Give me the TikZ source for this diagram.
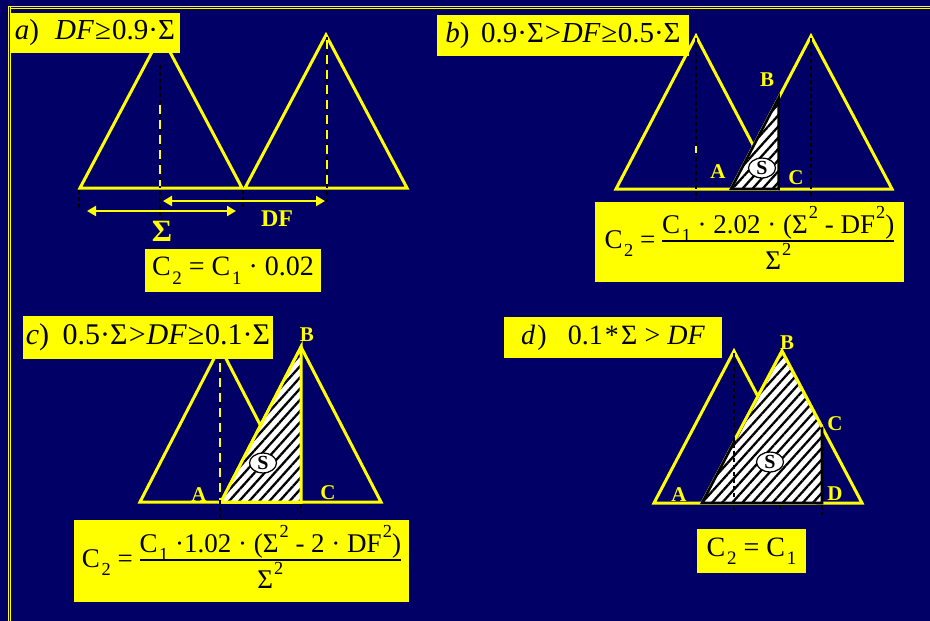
\documentclass[tikz,border=0pt]{standalone}
\usepackage{fontspec}
\usepackage{graphicx}
\setmainfont{Liberation Serif}
\usetikzlibrary{arrows.meta,patterns.meta,shapes.geometric}
\definecolor{navy}{RGB}{0,0,102}
\definecolor{yel}{RGB}{255,255,0}
\newcommand\fs[1]{\fontsize{#1}{#1}\selectfont}
\newcommand\sbs[1]{\kern0.06em\raisebox{-0.3em}{\scalebox{0.68}{#1}}}
\newcommand\sps[1]{\kern0.04em\raisebox{0.55em}{\scalebox{0.68}{#1}}}
\newcommand\myfrac[2]{\setlength\arrayrulewidth{1.4pt}\renewcommand\arraystretch{1.0}\begin{tabular}{@{}c@{}}#1\\[-1pt]\hline\rule{0pt}{1.05em}#2\end{tabular}}
\begin{document}
\begin{tikzpicture}[x=1pt,y=-1pt,
  tri/.style={draw=yel,line width=3pt,line join=miter},
  ybox/.style={fill=yel,text=black,inner sep=0pt},
  blk/.style={draw=black,line width=1.6pt,dash pattern=on 4pt off 3pt},
  ydash/.style={draw=yel,line width=2.4pt,dash pattern=on 9pt off 6pt},
  lbl/.style={text=yel,font=\fs{21}\bfseries,inner sep=0pt},
  sball/.style={ellipse,draw=black,line width=1.2pt,fill=white,inner sep=0.3pt,minimum width=27pt,minimum height=19pt,font=\fs{20}\bfseries,text=black},
  hatch/.style={preaction={fill=white},pattern={Lines[angle=48,distance=7.5pt,line width=2.3pt]},pattern color=black},
  dimarr/.style={draw=yel,line width=2pt,{Triangle[length=9pt,width=10pt]}-{Triangle[length=9pt,width=10pt]}},
  frame/.style={draw=yel,line width=1.3pt,double=navy,double distance=0.9pt}]
\fill[navy] (0,0) rectangle (930,621);
\useasboundingbox (0,0) rectangle (930,621);
% frame
\coordinate (f0) at (8,7.3);
\coordinate (f1) at (930,7.3);
\coordinate (f2) at (9.3,7.3);
\coordinate (f3) at (9.3,621);
\draw[frame] (f0) -- (f1);
\draw[frame] (f2) -- (f3);

% ================= panel a
\coordinate (a1L) at (80,188); \coordinate (a1T) at (161,35); \coordinate (a1R) at (242,188);
\coordinate (a2L) at (245,188); \coordinate (a2T) at (326,35); \coordinate (a2R) at (407,188);
\draw[tri] (a1L) -- (a1T) -- (a1R) -- cycle;
\draw[tri] (a2L) -- (a2T) -- (a2R) -- cycle;
\coordinate (ad1a) at (160,65); \coordinate (ad1b) at (160,217);
\coordinate (ad1c) at (160,105); \coordinate (ad1d) at (160,186);
\draw[blk] (ad1a) -- (ad1b);
\draw[ydash] (ad1c) -- (ad1d);
\coordinate (ad2a) at (327,37); \coordinate (ad2b) at (327,205);
\coordinate (ad2c) at (327,40); \coordinate (ad2d) at (327,186);
\draw[blk] (ad2a) -- (ad2b);
\draw[ydash] (ad2c) -- (ad2d);
\coordinate (at1a) at (79,190); \coordinate (at1b) at (79,211);
\coordinate (at2a) at (243,190); \coordinate (at2b) at (243,207);
\draw[blk] (at1a) -- (at1b);
\draw[blk] (at2a) -- (at2b);
\coordinate (sgA) at (87,211); \coordinate (sgB) at (236,211);
\coordinate (dfA) at (163,201); \coordinate (dfB) at (325,201);
\draw[dimarr] (sgA) -- (sgB);
\draw[dimarr] (dfA) -- (dfB);
\node[text=yel,font=\fs{31}\bfseries,inner sep=0pt] (sigl) at (162,231) {Σ};
\node[text=yel,font=\fs{24}\bfseries,inner sep=0pt] (dfl) at (277,219) {DF};
\node[ybox,minimum width=170pt,minimum height=40pt,font=\fs{29}] (ta) at (95,33) {\textit{a})\hspace{0.55em}\textit{DF}\kern0.04em≥\kern0.04em0.9·Σ};
\node[ybox,minimum width=176pt,minimum height=43pt,font=\fs{28}] (fa) at (233,270.5) {C\sbs{2} = C\sbs{1} · 0.02};

% ================= panel b
\coordinate (b1L) at (616,189); \coordinate (b1T) at (696,36); \coordinate (b1R) at (776,189);
\coordinate (b2L) at (731,189); \coordinate (b2T) at (811,36); \coordinate (b2R) at (892,189);
\draw[tri] (b1L) -- (b1T) -- (b1R) -- cycle;
\draw[tri] (b2L) -- (b2T) -- (b2R) -- cycle;
\coordinate (bA) at (731,189); \coordinate (bB) at (778.6,98); \coordinate (bC) at (778.6,189);
\draw[hatch] (bA) -- (bB) -- (bC) -- cycle;
\draw[black,line width=2.6pt,line join=miter] (bA) -- (bB) -- (bC) -- cycle;
\coordinate (bd1a) at (696,38); \coordinate (bd1b) at (696,200);
\coordinate (bd2a) at (811,38); \coordinate (bd2b) at (811,196);
\coordinate (bd1c) at (696,146); \coordinate (bd1d) at (696,153);
\draw[blk] (bd1a) -- (bd1b);
\draw[blk] (bd2a) -- (bd2b);
\draw[draw=yel,line width=2.4pt] (bd1c) -- (bd1d);
\node[lbl] (bBl) at (767,80) {B};
\node[lbl] (bAl) at (718,172) {A};
\node[lbl] (bCl) at (796,178) {C};
\node[sball] (bS) at (762,168) {S};
\node[ybox,minimum width=252pt,minimum height=41pt,font=\fs{29}] (tb) at (563,35.5) {\textit{b})\hspace{0.4em}0.9·Σ\kern0.03em>\kern0.02em\textit{DF}\kern0.02em≥\kern0.02em0.5·Σ};
\node[ybox,minimum width=309pt,minimum height=80pt,font=\fs{27}] (fb) at (749.5,242) {C\sbs{2} = \myfrac{C\sbs{1} · 2.02 · (Σ\sps{2} - DF\sps{2})}{Σ\sps{2}}};

% ================= panel c
\coordinate (c1L) at (140,502); \coordinate (c1T) at (220,347); \coordinate (c1R) at (300,502);
\coordinate (c2L) at (221,502); \coordinate (c2T) at (301,347); \coordinate (c2R) at (381,502);
\draw[tri] (c1L) -- (c1T) -- (c1R) -- cycle;
\draw[tri] (c2L) -- (c2T) -- (c2R) -- cycle;
\coordinate (cA) at (221,502); \coordinate (cB) at (301,347); \coordinate (cC) at (301,502);
\draw[hatch] (cA) -- (cB) -- (cC) -- cycle;
\draw[tri] (cA) -- (cB) -- (cC) -- cycle;
\coordinate (cd1a) at (220,360); \coordinate (cd1b) at (220,518);
\coordinate (cd1c) at (220,363); \coordinate (cd1d) at (220,500);
\draw[blk] (cd1a) -- (cd1b);
\draw[ydash] (cd1c) -- (cd1d);
\coordinate (ct1a) at (301,504); \coordinate (ct1b) at (301,513);
\draw[blk] (ct1a) -- (ct1b);
\node[lbl] (cBl) at (307,335) {B};
\node[lbl] (cAl) at (199,495) {A};
\node[lbl] (cCl) at (328,493) {C};
\node[sball] (cS) at (263,463) {S};
\node[ybox,minimum width=250pt,minimum height=43pt,font=\fs{30}] (tc) at (148,337.5) {\textit{c})\hspace{0.45em}0.5·Σ\kern0.04em>\kern0.03em\textit{DF}\kern0.03em≥\kern0.03em0.1·Σ};
\node[ybox,minimum width=335pt,minimum height=82pt,font=\fs{27}] (fc) at (241.5,561) {C\sbs{2} = \myfrac{C\sbs{1} ·1.02 · (Σ\sps{2} - 2 · DF\sps{2})}{Σ\sps{2}}};

% ================= panel d
\coordinate (d1L) at (654,503); \coordinate (d1T) at (734,351); \coordinate (d1R) at (814,503);
\coordinate (d2L) at (702,503); \coordinate (d2T) at (782,351); \coordinate (d2R) at (862,503);
\draw[tri] (d1L) -- (d1T) -- (d1R) -- cycle;
\draw[tri] (d2L) -- (d2T) -- (d2R) -- cycle;
\coordinate (dA) at (702,503); \coordinate (dB) at (782,351); \coordinate (dC) at (822,427); \coordinate (dD) at (822,503);
\coordinate (dM) at (734.6,440);
\draw[hatch] (dA) -- (dB) -- (dC) -- (dD) -- cycle;
\draw[black,line width=2.6pt,line join=miter] (dA) -- (dB) -- (dC) -- (dD) -- cycle;
\draw[tri] (dM) -- (dB) -- (dC);
\coordinate (dd1a) at (734,353); \coordinate (dd1b) at (734,510);
\draw[blk] (dd1a) -- (dd1b);
\coordinate (dt1a) at (780,505); \coordinate (dt1b) at (780,511);
\coordinate (dt2a) at (822,505); \coordinate (dt2b) at (822,515);
\draw[blk] (dt1a) -- (dt1b);
\draw[blk] (dt2a) -- (dt2b);
\node[lbl] (dBl) at (787,343) {B};
\node[lbl] (dCl) at (835,424) {C};
\node[lbl] (dAl) at (679,495) {A};
\node[lbl] (dDl) at (835,494) {D};
\node[sball] (dS) at (770,462) {S};
\node[ybox,minimum width=218pt,minimum height=41pt,font=\fs{28}] (td) at (613,337.5) {\textit{d}\kern0.08em)\hspace{0.75em}0.1\kern0.08em*\kern0.08emΣ\kern0.25em>\kern0.25em\textit{DF}};
\node[ybox,minimum width=109pt,minimum height=44pt,font=\fs{28}] (fd) at (751.5,551) {C\sbs{2} = C\sbs{1}};
\end{tikzpicture}
\end{document}
